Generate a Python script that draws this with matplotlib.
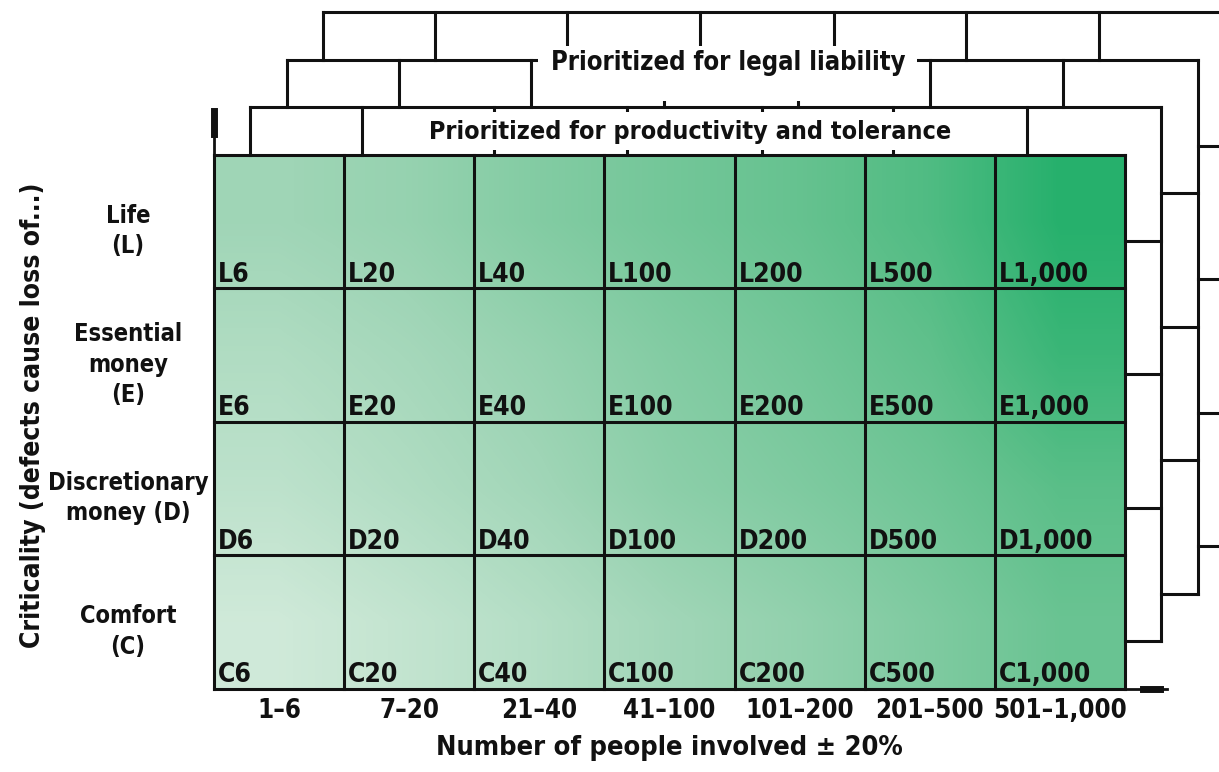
#!/usr/bin/env python3

import matplotlib
matplotlib.use('Agg')
import matplotlib.pyplot as plt
from matplotlib.colors import LinearSegmentedColormap
from matplotlib.patches import Rectangle

# rows from top to bottom, columns from left to right
row_codes = ['L', 'E', 'D', 'C']
row_labels = ['Life\n(L)', 'Essential\nmoney\n(E)', 'Discretionary\nmoney (D)', 'Comfort\n(C)']
col_codes = ['6', '20', '40', '100', '200', '500', '1,000']
col_labels = ['1–6', '7–20', '21–40', '41–100', '101–200', '201–500', '501–1,000']

# shade, 0 = palest green, 1 = deepest green
shade = [
    [0.33, 0.38, 0.48, 0.56, 0.63, 0.74, 0.94],
    [0.24, 0.30, 0.38, 0.48, 0.56, 0.66, 0.84],
    [0.17, 0.24, 0.32, 0.43, 0.50, 0.58, 0.69],
    [0.07, 0.14, 0.22, 0.32, 0.40, 0.50, 0.61],
]

layer_titles = ['Prioritized for productivity and tolerance',
                'Prioritized for legal liability']

INK = '#111111'
LW = 2.2


def main():
    plt.rcParams['font.family'] = ['DejaVu Sans']
    plt.rcParams['font.stretch'] = 'condensed'
    plt.rcParams['font.weight'] = 'bold'
    n_rows = len(row_codes)
    n_cols = len(col_codes)

    fig = plt.figure(figsize=(12.19, 7.72), dpi=100)
    ax = fig.add_axes([0, 0, 1, 1])
    ax.set_xlim(-1.644, 7.722)
    ax.set_ylim(-0.622, 5.161)
    ax.axis('off')

    cmap = LinearSegmentedColormap.from_list('greens', ['#dcefe2', '#9fd5b6', '#5fc08b', '#1aad66'])
    ax.imshow(shade, cmap=cmap, vmin=0, vmax=1, extent=(0, n_cols, 0, n_rows),
              interpolation='bilinear', aspect='auto', zorder=1)

    # cell borders
    for i in range(n_cols + 1):
        ax.plot([i, i], [0, n_rows], color=INK, lw=LW, zorder=3, solid_capstyle='projecting')
    for j in range(n_rows + 1):
        ax.plot([0, n_cols], [j, j], color=INK, lw=LW, zorder=3, solid_capstyle='projecting')

    # cell codes
    for r, code in enumerate(row_codes):
        for c, val in enumerate(col_codes):
            ax.text(c + 0.03, n_rows - 1 - r + 0.05, code + val, ha='left', va='baseline',
                    fontsize=19, color=INK, zorder=4)

    # row and column labels
    for r, lab in enumerate(row_labels):
        ax.text(-0.661, n_rows - 1 - r + 0.43, lab, ha='center', va='center',
                fontsize=17, linespacing=1.35, color=INK, zorder=4)
    for c, lab in enumerate(col_labels):
        ax.text(c + 0.5, -0.217, lab, ha='center', va='baseline', fontsize=18.5, color=INK)

    ax.text(3.5, -0.494, 'Number of people involved ± 20%', ha='center', va='baseline',
            fontsize=19.5, color=INK)
    ax.text(-1.391, 2.05, 'Criticality (defects cause loss of...)', ha='center', va='center',
            rotation=90, fontsize=19, color=INK)

    # axis arrows
    ax.plot([0, 0], [n_rows, n_rows + 0.33], color=INK, lw=2, zorder=3)
    ax.plot([0, 0], [n_rows + 0.16, n_rows + 0.33], color=INK, lw=5, zorder=3)
    ax.plot([n_cols, n_cols + 0.32], [0, 0], color=INK, lw=2, zorder=3)
    ax.plot([n_cols + 0.14, n_cols + 0.27], [0, 0], color=INK, lw=5, zorder=3)

    # stacked outlines of the other prioritisation layers
    dx, dy = 0.28, 0.356
    bracket_cols = [0, 0.861, 1.875, 2.897, 3.927, 4.941, 5.963]
    for k in range(1, 4):
        left, right = k * dx, n_cols + k * dx
        bottom, top = k * dy, n_rows + k * dy
        ax.plot([left, right], [top, top], color=INK, lw=LW, zorder=2)
        for b in bracket_cols:
            ax.plot([left + b, left + b], [top, top - dy], color=INK, lw=LW, zorder=2)
        ax.plot([right, right], [top, bottom], color=INK, lw=LW, zorder=2)
        for j in range(n_rows):
            ax.plot([right - dx, right], [bottom + j, bottom + j], color=INK, lw=LW, zorder=2)

    # white boxes behind the layer titles
    ax.add_patch(Rectangle((1.60, 4.04), 4.12, 0.28, fc='white', ec='none', zorder=4))
    ax.add_patch(Rectangle((2.49, 4.404), 2.91, 0.412, fc='white', ec='none', zorder=4))
    ax.text(3.658, 4.172, layer_titles[0], ha='center', va='center', fontsize=18, color=INK,
            zorder=5)
    ax.text(3.95, 4.69, layer_titles[1], ha='center', va='center', fontsize=18.4, color=INK,
            zorder=5)

    fig.savefig('out.png', dpi=100)


if __name__ == '__main__':
    main()
